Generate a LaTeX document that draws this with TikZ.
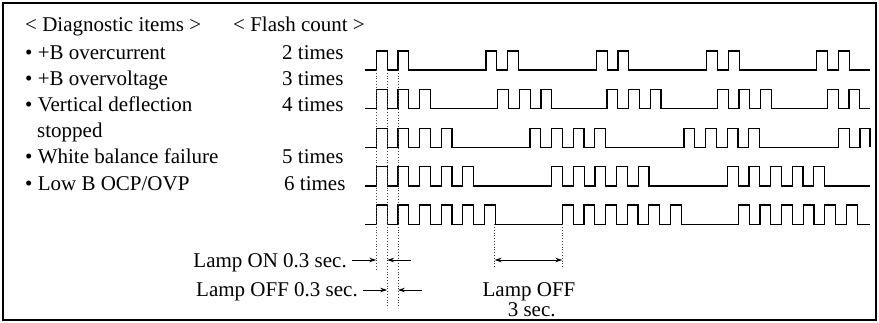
\documentclass[tikz,border=0pt]{standalone}
\usepackage{fontspec}
\setmainfont{Liberation Serif}
\usetikzlibrary{arrows.meta}
\begin{document}
\begin{tikzpicture}[x=1pt,y=-1pt,
  wave/.style={line width=1.2pt, line join=miter},
  guide/.style={dotted, line width=0.8pt, black!75},
  lbl/.style={font=\fontsize{21}{25}\selectfont, inner sep=0pt},
  dimarrow/.style={line width=0.8pt, -{Stealth[length=7pt,width=4.5pt]}},
  dimboth/.style={line width=0.8pt, {Stealth[length=7pt,width=4.5pt]}-{Stealth[length=7pt,width=4.5pt]}}]
\useasboundingbox (0,0) rectangle (879,323);
\draw[line width=2.5pt] (3,3) rectangle (876,320);
\def\pu{10.8}
% header and items
\node[lbl,anchor=base west] (hdiag) at (25,31.5) {< Diagnostic items >};
\node[lbl,anchor=base west] (hflash) at (233,31.5) {< Flash count >};
\node[lbl,anchor=base west] (i1) at (25,59.3) {• +B overcurrent};
\node[lbl,anchor=base west] (i2) at (25,85.8) {• +B overvoltage};
\node[lbl,anchor=base west] (i3) at (25,112) {• Vertical deflection};
\node[lbl,anchor=base west] (i3b) at (37,137.5) {stopped};
\node[lbl,anchor=base west] (i4) at (25,164) {• White balance failure};
\node[lbl,anchor=base west] (i5) at (25,190.5) {• Low B OCP/OVP};
\node[lbl,anchor=base west] (c1) at (282,59.3) {2 times};
\node[lbl,anchor=base west] (c2) at (282,85.8) {3 times};
\node[lbl,anchor=base west] (c3) at (282,112) {4 times};
\node[lbl,anchor=base west] (c4) at (282,164) {5 times};
\node[lbl,anchor=base west] (c5) at (284,190.5) {6 times};
% waves
\draw[wave] (365,70) foreach \st/\nn in {376.3/2,486/2,596.3/2,706.7/2,816.7/2} { foreach \k in {1,...,\nn} { -- ({\st+(2*\k-2)*\pu},70) |- ({\st+(2*\k-1)*\pu},51) -- ({\st+(2*\k-1)*\pu},70) } } -- (870,70);
\draw[wave] (365,108.3) foreach \st/\nn in {376.3/3,497.7/3,607/3,717.3/3,827.3/2} { foreach \k in {1,...,\nn} { -- ({\st+(2*\k-2)*\pu},108.3) |- ({\st+(2*\k-1)*\pu},89.3) -- ({\st+(2*\k-1)*\pu},108.3) } } -- (870,108.3);
\draw[wave] (365,147.3) foreach \st/\nn in {376.3/4,530/4,684/4,838.3/1} { foreach \k in {1,...,\nn} { -- ({\st+(2*\k-2)*\pu},147.3) |- ({\st+(2*\k-1)*\pu},128.3) -- ({\st+(2*\k-1)*\pu},147.3) } } -- (859.9,147.3) |- (870,128.3) -- (870,147.3);
\draw[wave] (365,186) foreach \st/\nn in {376.3/5,551.7/5,727.3/5} { foreach \k in {1,...,\nn} { -- ({\st+(2*\k-2)*\pu},186) |- ({\st+(2*\k-1)*\pu},166.7) -- ({\st+(2*\k-1)*\pu},186) } } -- (870,186);
\draw[wave] (365,224.3) foreach \st/\nn in {376.3/6,562.3/6,738.3/6} { foreach \k in {1,...,\nn} { -- ({\st+(2*\k-2)*\pu},224.3) |- ({\st+(2*\k-1)*\pu},205) -- ({\st+(2*\k-1)*\pu},224.3) } } -- (870,224.3);
% guide lines
\coordinate (g1t) at (376.3,70);  \coordinate (g1b) at (376.3,269);
\coordinate (g2t) at (387.1,70);  \coordinate (g2b) at (387.1,308);
\coordinate (g3t) at (397.9,70);  \coordinate (g3b) at (397.9,308);
\coordinate (g4t) at (494.5,224.3); \coordinate (g4b) at (494.5,269);
\coordinate (g5t) at (562.3,224.3); \coordinate (g5b) at (562.3,269);
\draw[guide] (g1t) -- (g1b);
\draw[guide] (g2t) -- (g2b);
\draw[guide] (g3t) -- (g3b);
\draw[guide] (g4t) -- (g4b);
\draw[guide] (g5t) -- (g5b);
% labels and dimension arrows
\node[lbl,anchor=base east] (lon) at (347,267.5) {Lamp ON 0.3 sec.};
\node[lbl,anchor=base east] (loff) at (358,296.5) {Lamp OFF 0.3 sec.};
\node[lbl,anchor=base] (loff3) at (529,296.5) {Lamp OFF};
\node[lbl,anchor=base] (sec3) at (531.7,316.5) {3 sec.};
\coordinate (a1s) at (352,260); \coordinate (a1e) at (376.3,260);
\coordinate (a2s) at (411,260); \coordinate (a2e) at (387.1,260);
\coordinate (a3s) at (362.7,290); \coordinate (a3e) at (387.1,290);
\coordinate (a4s) at (421.7,290); \coordinate (a4e) at (397.9,290);
\coordinate (a5s) at (494.5,260); \coordinate (a5e) at (562.3,260);
\draw[dimarrow] (a1s) -- (a1e);
\draw[dimarrow] (a2s) -- (a2e);
\draw[dimarrow] (a3s) -- (a3e);
\draw[dimarrow] (a4s) -- (a4e);
\draw[dimboth] (a5s) -- (a5e);
\end{tikzpicture}
\end{document}
